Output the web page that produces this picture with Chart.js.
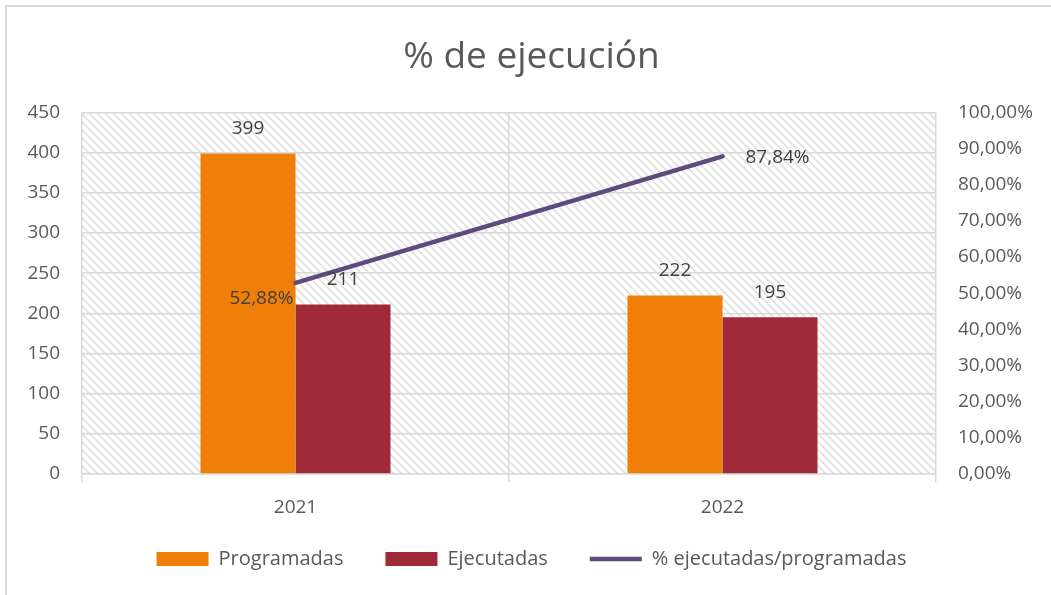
<!DOCTYPE html>
<html lang="es">
<head>
  <meta charset="UTF-8" />
  <title>% de ejecución</title>
  <script src="https://cdn.jsdelivr.net/npm/chart.js"></script>
  <style>
    body { margin: 0; background: #fff; }
    .frame { position: absolute; left: 5px; top: 5px; width: 1200px; height: 700px; border: 2px solid #d9d9d9; }
    #chart { position: absolute; left: 0; top: 0; }
  </style>
</head>
<body>
  <div class="frame"></div>
  <canvas id="chart" width="1051" height="595"></canvas>

  <script>
    // values
    const years = ['2021', '2022'];
    const programadas = [399, 222];
    const ejecutadas = [211, 195];
    const porcentaje = [0.5288, 0.8784];

    const fmtPct = v => (v * 100).toFixed(2).replace('.', ',') + '%';

    Chart.defaults.font.family = "'Open Sans', sans-serif";
    Chart.defaults.color = '#595959';

    // diagonal hatch for the plot area
    function makeHatch(ctx) {
      const c = document.createElement('canvas');
      c.width = 8; c.height = 8;
      const g = c.getContext('2d');
      g.strokeStyle = '#e2e2e2';
      g.lineWidth = 1.8;
      g.beginPath();
      g.moveTo(-2, -2); g.lineTo(10, 10);
      g.moveTo(-6, 2); g.lineTo(2, 10);
      g.moveTo(6, -2); g.lineTo(14, 6);
      g.stroke();
      return ctx.createPattern(c, 'repeat');
    }

    const hatchPlugin = {
      id: 'hatch',
      beforeDraw(chart) {
        const { ctx, chartArea: a } = chart;
        ctx.save();
        ctx.fillStyle = makeHatch(ctx);
        ctx.fillRect(a.left, a.top, a.right - a.left, a.bottom - a.top);
        ctx.restore();
      }
    };

    const labelPlugin = {
      id: 'valueLabels',
      afterDatasetsDraw(chart) {
        const ctx = chart.ctx;
        ctx.save();
        ctx.font = "19px 'Open Sans', sans-serif";
        ctx.fillStyle = '#404040';
        ctx.textBaseline = 'middle';
        chart.data.datasets.forEach((ds, i) => {
          const meta = chart.getDatasetMeta(i);
          meta.data.forEach((el, j) => {
            if (ds.type === 'line') {
              if (j === 0) {
                ctx.textAlign = 'right';
                ctx.fillText(fmtPct(ds.data[j]), el.x - 2, el.y + 16);
              } else {
                ctx.textAlign = 'left';
                ctx.fillText(fmtPct(ds.data[j]), el.x + 23, el.y + 1);
              }
            } else {
              ctx.textAlign = 'center';
              ctx.fillText(ds.data[j], el.x, el.y - 25);
            }
          });
        });
        ctx.restore();
      }
    };

    new Chart(document.getElementById('chart'), {
      type: 'bar',
      data: {
        labels: years,
        datasets: [
          {
            type: 'line',
            label: '% ejecutadas/programadas',
            data: porcentaje,
            yAxisID: 'y1',
            borderColor: '#5f4a7d',
            backgroundColor: '#5f4a7d',
            borderWidth: 4.5,
            borderCapStyle: 'round',
            pointRadius: 0,
            pointStyle: 'line',
            order: 0
          },
          {
            label: 'Programadas',
            data: programadas,
            backgroundColor: '#f07f09',
            borderWidth: 0,
            pointStyle: 'rect',
            order: 1
          },
          {
            label: 'Ejecutadas',
            data: ejecutadas,
            backgroundColor: '#9f2936',
            borderWidth: 0,
            pointStyle: 'rect',
            order: 1
          }
        ]
      },
      options: {
        responsive: false,
        animation: false,
        devicePixelRatio: 1,
        layout: { padding: { left: 12, right: 0, top: 0, bottom: 16 } },
        datasets: { bar: { categoryPercentage: 0.445, barPercentage: 1 } },
        plugins: {
          title: {
            display: true,
            text: '% de ejecución',
            color: '#595959',
            font: { size: 37, weight: 'normal' },
            padding: { top: 35, bottom: 33 }
          },
          legend: {
            position: 'bottom',
            labels: {
              usePointStyle: true,
              pointStyleWidth: 52,
              boxHeight: 14,
              padding: 42,
              font: { size: 20 },
              color: '#595959',
              sort: (a, b) => {
                const order = ['Programadas', 'Ejecutadas', '% ejecutadas/programadas'];
                return order.indexOf(a.text) - order.indexOf(b.text);
              }
            }
          },
          tooltip: { enabled: false }
        },
        scales: {
          x: {
            afterFit: s => {
              s.height = 33;
              s._computeLabelArea = () => undefined; // let year labels run below the axis box
            },
            grid: { color: '#d9d9d9', lineWidth: 1.5, offset: true, tickLength: 8 },
            border: { color: '#d9d9d9', width: 1.5 },
            ticks: { font: { size: 19 }, padding: 14, color: '#595959' }
          },
          y: {
            min: 0,
            max: 450,
            afterFit: s => { s.width = 70; },
            grid: { color: '#d9d9d9', lineWidth: 1.5, drawTicks: false },
            border: { display: false },
            ticks: { stepSize: 50, font: { size: 19 }, padding: 22, color: '#595959' }
          },
          y1: {
            position: 'right',
            min: 0,
            max: 1,
            afterFit: s => { s.width = 115; },
            grid: { display: false, drawTicks: false },
            border: { display: false },
            ticks: { stepSize: 0.1, font: { size: 19 }, padding: 22, color: '#595959', callback: v => fmtPct(v) }
          }
        }
      },
      plugins: [hatchPlugin, labelPlugin]
    });
  </script>
</body>
</html>
